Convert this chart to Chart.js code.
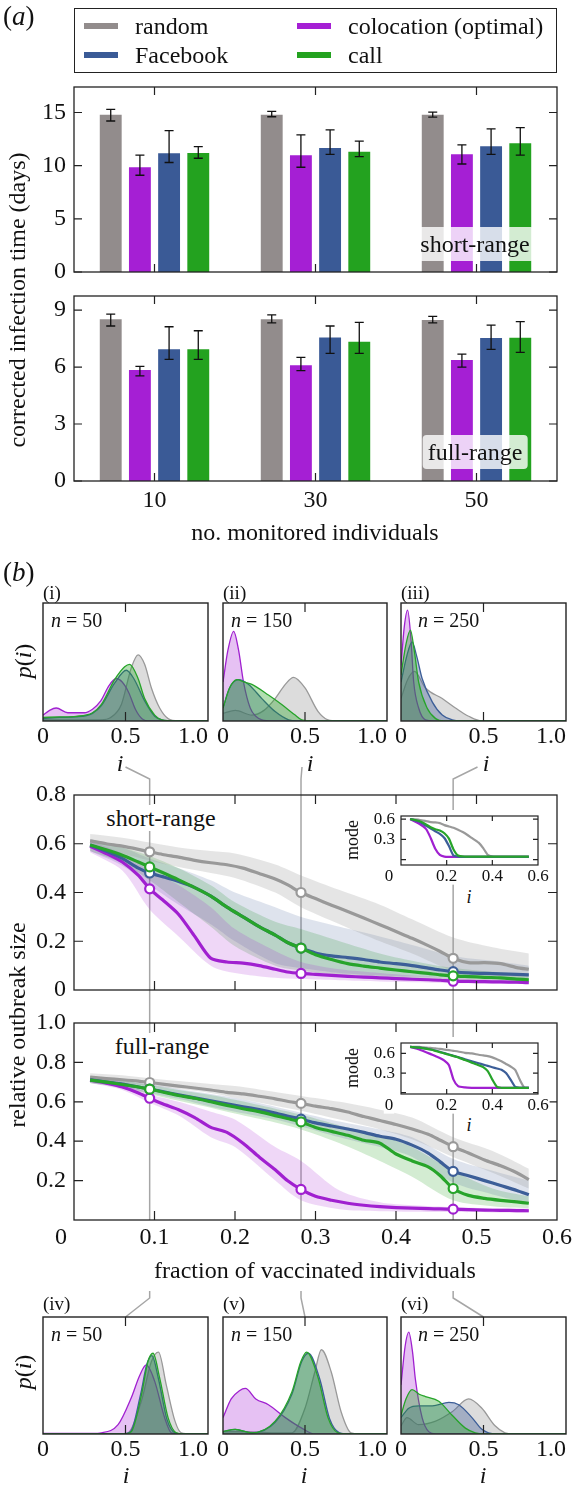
<!DOCTYPE html>
<html lang="en">
<head>
<meta charset="UTF-8">
<title>Monitoring and vaccination</title>
<script src="https://cdn.jsdelivr.net/npm/chart.js"></script>
<style>
    html, body { margin: 0; padding: 0; background: #fff; }
    body {
        width: 572px; height: 1488px; position: relative; overflow: hidden;
        font-family: "Liberation Serif", "Times New Roman", Tinos, "DejaVu Serif", "Noto Serif", serif; color: #111;
    }
    canvas { position: absolute; left: 0; top: 0; }
    .t { position: absolute; white-space: nowrap; line-height: 1; font-size: 24px;
         transform: translate(-50%, -50%); z-index: 10; }
    .l { transform: translate(0, -50%); }
    .rot { transform: translate(-50%, -50%) rotate(-90deg); }
    .tag { background: rgba(255, 255, 255, 0.8); border-radius: 4px; padding: 5px 5px; }
    .wbg { background: #fff; padding: 1px 3px; }
    #legend { position: absolute; left: 74px; top: 8px; width: 483px; height: 65px;
              border: 1.3px solid #222; box-sizing: border-box; z-index: 10; }
    .sw { position: absolute; width: 34px; height: 6px; }
</style>
</head>
<body>

<!-- panel (a) texts -->
<div class="t l" style="left:3px;top:16px;font-size:27px">(<i>a</i>)</div>
<div id="legend"></div>
<div class="t tag" style="left:475px;top:244px">short-range</div>
<div class="t tag" style="left:475px;top:452px">full-range</div>
<div class="t rot" style="left:17px;top:300px">corrected infection time (days)</div>
<div class="t" style="left:315px;top:532px">no. monitored individuals</div>

<!-- panel (b) texts -->
<div class="t l" style="left:3px;top:572px;font-size:27px">(<i>b</i>)</div>
<div class="t l" style="left:43px;top:592px;font-size:19px">(i)</div>
<div class="t l" style="left:223px;top:592px;font-size:19px">(ii)</div>
<div class="t l" style="left:401px;top:592px;font-size:19px">(iii)</div>
<div class="t l" style="left:51px;top:620px;font-size:20px"><i>n</i> = 50</div>
<div class="t l" style="left:231px;top:620px;font-size:20px"><i>n</i> = 150</div>
<div class="t l" style="left:418px;top:620px;font-size:20px"><i>n</i> = 250</div>
<div class="t rot" style="left:23px;top:661px"><i>p</i>(<i>i</i>)</div>
<div class="t" style="left:120px;top:763px"><i>i</i></div>
<div class="t" style="left:310px;top:763px"><i>i</i></div>
<div class="t" style="left:486px;top:763px"><i>i</i></div>

<div class="t wbg" style="left:161px;top:818px">short-range</div>
<div class="t wbg" style="left:162px;top:1046px">full-range</div>
<div class="t rot" style="left:352px;top:840px;font-size:18px">mode</div>
<div class="t rot" style="left:352px;top:1068px;font-size:18px">mode</div>
<div class="t wbg" style="left:469px;top:897px;font-size:18px"><i>i</i></div>
<div class="t wbg" style="left:469px;top:1125px;font-size:18px"><i>i</i></div>
<div class="t rot" style="left:17px;top:1025px">relative outbreak size</div>
<div class="t" style="left:315px;top:1270px">fraction of vaccinated individuals</div>

<div class="t l" style="left:43px;top:1303px;font-size:19px">(iv)</div>
<div class="t l" style="left:223px;top:1303px;font-size:19px">(v)</div>
<div class="t l" style="left:401px;top:1303px;font-size:19px">(vi)</div>
<div class="t l" style="left:51px;top:1334px;font-size:20px"><i>n</i> = 50</div>
<div class="t l" style="left:231px;top:1334px;font-size:20px"><i>n</i> = 150</div>
<div class="t l" style="left:418px;top:1334px;font-size:20px"><i>n</i> = 250</div>
<div class="t rot" style="left:23px;top:1372px"><i>p</i>(<i>i</i>)</div>
<div class="t" style="left:126px;top:1475px"><i>i</i></div>
<div class="t" style="left:304px;top:1475px"><i>i</i></div>
<div class="t" style="left:483px;top:1475px"><i>i</i></div>

<script>
    const W = 572, H = 1488;

    /***************************
            DATA
    ***************************/

    // series order: random, colocation (optimal), Facebook, call
    const seriesNames = ['random', 'colocation (optimal)', 'Facebook', 'call'];
    const barColors = ['#928c8c', '#a51fd4', '#3a5a96', '#23a21f'];
    const lineColors = ['#999999', '#a020d0', '#3c5e98', '#27a42a'];
    const bandColors = ['rgba(150,150,150,0.25)', 'rgba(165,31,212,0.18)', 'rgba(58,90,150,0.17)', 'rgba(35,162,31,0.2)'];
    const densFill = ['rgba(140,140,140,0.3)', 'rgba(165,31,212,0.28)', 'rgba(58,90,150,0.35)', 'rgba(35,162,31,0.35)'];

    // (a) bar charts
    const groups = ['10', '30', '50'];
    const barShortMean = [[14.8, 14.8, 14.8], [9.85, 10.97, 11.07], [11.16, 11.67, 11.82], [11.2, 11.3, 12.1]];
    const barShortLo   = [[14.2, 14.6, 14.56], [9.1, 9.85, 10.16], [10.3, 11.07, 11.07], [10.7, 10.85, 11.0]];
    const barShortHi   = [[15.3, 15.1, 15.03], [11.0, 12.9, 11.95], [13.3, 13.36, 13.46], [11.8, 12.3, 13.58]];
    const barFullMean  = [[8.51, 8.51, 8.47], [5.84, 6.09, 6.37], [6.93, 7.56, 7.53], [6.93, 7.33, 7.54]];
    const barFullLo    = [[8.16, 8.33, 8.33], [5.53, 5.81, 6.0], [6.40, 6.72, 6.93], [6.40, 6.72, 6.77]];
    const barFullHi    = [[8.79, 8.75, 8.67], [6.04, 6.51, 6.68], [8.12, 8.16, 8.21], [7.91, 8.35, 8.39]];

    // (b) outbreak size vs fraction of vaccinated individuals
    const vaccFrac = [0.094, 0.282, 0.471];
    const vaccX = [0.02, 0.04, 0.06, 0.08, 0.094, 0.11, 0.13, 0.15, 0.17, 0.19, 0.21, 0.23, 0.25, 0.265, 0.282,
                   0.30, 0.32, 0.34, 0.36, 0.38, 0.40, 0.42, 0.44, 0.455, 0.471, 0.49, 0.51, 0.53, 0.55, 0.565];
    const outShort = [
        [0.612, 0.60, 0.59, 0.577, 0.567, 0.556, 0.545, 0.532, 0.522, 0.514, 0.50, 0.478, 0.455, 0.432, 0.40,
         0.375, 0.348, 0.322, 0.295, 0.268, 0.24, 0.212, 0.182, 0.158, 0.13, 0.112, 0.112, 0.108, 0.092, 0.085],
        [0.59, 0.56, 0.525, 0.47, 0.415, 0.37, 0.31, 0.22, 0.13, 0.115, 0.11, 0.10, 0.085, 0.074, 0.068,
         0.064, 0.06, 0.056, 0.053, 0.05, 0.047, 0.044, 0.042, 0.04, 0.036, 0.035, 0.034, 0.033, 0.032, 0.03],
        [0.595, 0.57, 0.54, 0.50, 0.48, 0.465, 0.445, 0.42, 0.385, 0.34, 0.30, 0.26, 0.225, 0.195, 0.172,
         0.152, 0.14, 0.133, 0.125, 0.115, 0.108, 0.10, 0.09, 0.082, 0.075, 0.07, 0.068, 0.066, 0.064, 0.062],
        [0.595, 0.575, 0.553, 0.525, 0.505, 0.482, 0.452, 0.42, 0.385, 0.34, 0.30, 0.26, 0.225, 0.195, 0.172,
         0.145, 0.125, 0.108, 0.098, 0.09, 0.082, 0.075, 0.068, 0.062, 0.058, 0.055, 0.052, 0.05, 0.045, 0.042]
    ];
    const outFull = [
        [0.726, 0.718, 0.712, 0.705, 0.698, 0.69, 0.68, 0.67, 0.66, 0.648, 0.64, 0.628, 0.615, 0.603, 0.592,
         0.578, 0.565, 0.548, 0.525, 0.505, 0.485, 0.462, 0.435, 0.405, 0.372, 0.34, 0.305, 0.275, 0.24, 0.205],
        [0.71, 0.695, 0.675, 0.645, 0.618, 0.59, 0.56, 0.52, 0.47, 0.445, 0.39, 0.32, 0.255, 0.2, 0.155,
         0.12, 0.1, 0.085, 0.075, 0.068, 0.063, 0.06, 0.058, 0.056, 0.055, 0.053, 0.05, 0.049, 0.048, 0.047],
        [0.712, 0.70, 0.69, 0.675, 0.665, 0.652, 0.635, 0.62, 0.605, 0.59, 0.575, 0.56, 0.543, 0.528, 0.512,
         0.493, 0.477, 0.462, 0.445, 0.425, 0.41, 0.38, 0.34, 0.295, 0.247, 0.225, 0.2, 0.175, 0.15, 0.128],
        [0.71, 0.70, 0.688, 0.675, 0.664, 0.65, 0.632, 0.618, 0.60, 0.582, 0.565, 0.55, 0.53, 0.515, 0.498,
         0.47, 0.45, 0.43, 0.405, 0.39, 0.335, 0.30, 0.27, 0.225, 0.16, 0.125, 0.11, 0.10, 0.092, 0.085]
    ];

    // shaded bands
    const bandX = [0.02, 0.06, 0.094, 0.13, 0.17, 0.2, 0.25, 0.282, 0.33, 0.38, 0.42, 0.471, 0.52, 0.565];
    const bandShortHi = [
        [0.64, 0.625, 0.605, 0.585, 0.57, 0.56, 0.515, 0.47, 0.41, 0.35, 0.29, 0.215, 0.175, 0.15],
        [0.61, 0.56, 0.49, 0.43, 0.34, 0.25, 0.16, 0.115, 0.085, 0.07, 0.06, 0.05, 0.045, 0.04],
        [0.62, 0.585, 0.54, 0.5, 0.45, 0.4, 0.34, 0.3, 0.26, 0.22, 0.185, 0.14, 0.12, 0.1],
        [0.615, 0.585, 0.55, 0.5, 0.43, 0.36, 0.28, 0.25, 0.2, 0.15, 0.12, 0.09, 0.075, 0.065]
    ];
    const bandShortLo = [
        [0.585, 0.56, 0.53, 0.505, 0.48, 0.46, 0.4, 0.34, 0.27, 0.2, 0.15, 0.08, 0.06, 0.05],
        [0.565, 0.49, 0.33, 0.22, 0.1, 0.07, 0.05, 0.045, 0.04, 0.035, 0.032, 0.028, 0.026, 0.025],
        [0.57, 0.51, 0.43, 0.35, 0.27, 0.2, 0.11, 0.09, 0.07, 0.06, 0.055, 0.05, 0.047, 0.045],
        [0.57, 0.52, 0.45, 0.36, 0.26, 0.18, 0.1, 0.08, 0.06, 0.05, 0.045, 0.04, 0.035, 0.032]
    ];
    const bandFullHi = [
        [0.745, 0.735, 0.72, 0.705, 0.69, 0.68, 0.65, 0.63, 0.6, 0.56, 0.52, 0.42, 0.35, 0.26],
        [0.725, 0.7, 0.64, 0.6, 0.55, 0.51, 0.37, 0.3, 0.15, 0.09, 0.075, 0.065, 0.06, 0.058],
        [0.73, 0.71, 0.69, 0.665, 0.64, 0.62, 0.575, 0.545, 0.5, 0.46, 0.42, 0.31, 0.25, 0.2],
        [0.73, 0.71, 0.685, 0.66, 0.635, 0.61, 0.565, 0.535, 0.48, 0.43, 0.37, 0.25, 0.16, 0.12]
    ];
    const bandFullLo = [
        [0.705, 0.695, 0.68, 0.665, 0.645, 0.62, 0.58, 0.555, 0.51, 0.46, 0.41, 0.32, 0.24, 0.16],
        [0.695, 0.66, 0.595, 0.53, 0.42, 0.37, 0.2, 0.1, 0.055, 0.045, 0.042, 0.04, 0.038, 0.037],
        [0.695, 0.675, 0.645, 0.615, 0.575, 0.55, 0.51, 0.475, 0.42, 0.37, 0.32, 0.19, 0.13, 0.085],
        [0.695, 0.67, 0.64, 0.605, 0.57, 0.54, 0.495, 0.46, 0.39, 0.3, 0.22, 0.1, 0.07, 0.06]
    ];

    // insets: mode of the outbreak size
    const insetX = [0.04, 0.08, 0.11, 0.13, 0.15, 0.17, 0.19, 0.21, 0.23, 0.25, 0.28, 0.31,
                    0.34, 0.36, 0.38, 0.40, 0.42, 0.44, 0.46, 0.48, 0.50, 0.52, 0.54, 0.56];
    const modeShort = [
        [0.60, 0.59, 0.57, 0.555, 0.55, 0.54, 0.51, 0.49, 0.47, 0.44, 0.39, 0.32, 0.25, 0.17, 0.07, 0.045, 0.04, 0.04, 0.04, 0.04, 0.04, 0.04, 0.04, 0.04],
        [0.60, 0.53, 0.45, 0.32, 0.16, 0.07, 0.045, 0.04, 0.04, 0.04, 0.04, 0.04, 0.04, 0.04, 0.04, 0.04, 0.04, 0.04, 0.04, 0.04, 0.04, 0.04, 0.04, 0.04],
        [0.60, 0.56, 0.50, 0.46, 0.42, 0.38, 0.32, 0.20, 0.06, 0.045, 0.04, 0.04, 0.04, 0.04, 0.04, 0.04, 0.04, 0.04, 0.04, 0.04, 0.04, 0.04, 0.04, 0.04],
        [0.60, 0.57, 0.52, 0.48, 0.45, 0.43, 0.39, 0.31, 0.15, 0.06, 0.045, 0.045, 0.045, 0.045, 0.045, 0.045, 0.045, 0.045, 0.045, 0.045, 0.045, 0.045, 0.045, 0.045]
    ];
    const modeFull = [
        [0.70, 0.70, 0.69, 0.685, 0.68, 0.67, 0.66, 0.65, 0.64, 0.63, 0.61, 0.60, 0.58, 0.57, 0.56, 0.54, 0.51, 0.48, 0.44, 0.40, 0.35, 0.20, 0.08, 0.075],
        [0.70, 0.66, 0.62, 0.59, 0.56, 0.53, 0.49, 0.42, 0.20, 0.10, 0.08, 0.075, 0.075, 0.075, 0.075, 0.075, 0.075, 0.075, 0.075, 0.075, 0.075, 0.075, 0.075, 0.075],
        [0.70, 0.69, 0.675, 0.66, 0.645, 0.625, 0.605, 0.585, 0.565, 0.545, 0.51, 0.48, 0.45, 0.43, 0.41, 0.39, 0.37, 0.35, 0.30, 0.20, 0.09, 0.075, 0.075, 0.075],
        [0.70, 0.69, 0.675, 0.66, 0.64, 0.62, 0.60, 0.58, 0.56, 0.54, 0.50, 0.46, 0.42, 0.39, 0.33, 0.20, 0.09, 0.075, 0.075, 0.075, 0.075, 0.075, 0.075, 0.075]
    ];

    // densities p(i), as [i, p] pairs, series order random, colocation, Facebook, call
    const densI = [
        [[0, 0.01], [0.2, 0.01], [0.35, 0.01], [0.41, 0.03], [0.475, 0.14], [0.535, 0.45], [0.576, 0.56], [0.616, 0.48], [0.657, 0.28], [0.707, 0.11], [0.758, 0.02], [0.82, 0], [1, 0]],
        [[0, 0.05], [0.04, 0.09], [0.08, 0.11], [0.15, 0.07], [0.25, 0.07], [0.3, 0.1], [0.35, 0.17], [0.4, 0.3], [0.444, 0.36], [0.48, 0.33], [0.52, 0.24], [0.56, 0.1], [0.6, 0.02], [0.65, 0], [1, 0]],
        [[0, 0.02], [0.1, 0.03], [0.2, 0.035], [0.3, 0.065], [0.354, 0.13], [0.434, 0.32], [0.505, 0.43], [0.55, 0.36], [0.616, 0.17], [0.677, 0.04], [0.72, 0.01], [0.8, 0], [1, 0]],
        [[0, 0.03], [0.1, 0.035], [0.2, 0.04], [0.3, 0.07], [0.354, 0.14], [0.434, 0.35], [0.495, 0.46], [0.525, 0.48], [0.576, 0.36], [0.616, 0.19], [0.677, 0.05], [0.72, 0.01], [0.8, 0], [1, 0]]
    ];
    const densII = [
        [[0, 0.065], [0.075, 0.09], [0.176, 0.05], [0.25, 0.09], [0.318, 0.19], [0.38, 0.31], [0.43, 0.37], [0.5, 0.28], [0.58, 0.08], [0.64, 0.01], [0.7, 0], [1, 0]],
        [[0, 0.33], [0.03, 0.6], [0.065, 0.76], [0.095, 0.6], [0.125, 0.33], [0.166, 0.11], [0.2, 0.04], [0.237, 0.01], [0.3, 0], [1, 0]],
        [[0, 0.11], [0.04, 0.28], [0.095, 0.35], [0.156, 0.31], [0.237, 0.19], [0.318, 0.08], [0.4, 0.01], [0.45, 0], [1, 0]],
        [[0, 0.11], [0.04, 0.28], [0.085, 0.35], [0.13, 0.33], [0.176, 0.31], [0.277, 0.22], [0.358, 0.14], [0.44, 0.05], [0.48, 0.01], [0.55, 0], [1, 0]]
    ];
    const densIII = [
        [[0, 0.19], [0.04, 0.35], [0.081, 0.42], [0.148, 0.28], [0.25, 0.19], [0.33, 0.11], [0.41, 0.04], [0.49, 0], [1, 0]],
        [[0, 0.47], [0.02, 0.8], [0.04, 0.94], [0.06, 0.7], [0.077, 0.33], [0.107, 0.11], [0.148, 0.01], [0.2, 0], [1, 0]],
        [[0, 0.33], [0.035, 0.55], [0.067, 0.67], [0.095, 0.55], [0.128, 0.36], [0.19, 0.16], [0.25, 0.05], [0.31, 0.01], [0.36, 0], [1, 0]],
        [[0, 0.39], [0.03, 0.65], [0.057, 0.77], [0.08, 0.6], [0.107, 0.33], [0.158, 0.11], [0.21, 0.02], [0.26, 0], [1, 0]]
    ];
    const densIV = [
        [[0, 0], [0.45, 0], [0.515, 0.01], [0.596, 0.28], [0.657, 0.62], [0.70, 0.70], [0.747, 0.42], [0.8, 0.11], [0.838, 0.01], [0.9, 0], [1, 0]],
        [[0, 0.005], [0.3, 0.005], [0.354, 0.01], [0.455, 0.08], [0.535, 0.31], [0.586, 0.5], [0.626, 0.59], [0.677, 0.45], [0.737, 0.14], [0.778, 0.01], [0.82, 0], [1, 0]],
        [[0, 0], [0.47, 0], [0.53, 0.02], [0.59, 0.33], [0.63, 0.6], [0.66, 0.67], [0.70, 0.47], [0.75, 0.13], [0.80, 0.01], [0.85, 0], [1, 0]],
        [[0, 0], [0.48, 0], [0.535, 0.02], [0.596, 0.33], [0.636, 0.62], [0.667, 0.69], [0.707, 0.48], [0.758, 0.14], [0.808, 0.01], [0.85, 0], [1, 0]]
    ];
    const densV = [
        [[0, 0.02], [0.15, 0.02], [0.3, 0.01], [0.42, 0.01], [0.5, 0.22], [0.56, 0.53], [0.6, 0.72], [0.66, 0.53], [0.72, 0.19], [0.78, 0.01], [0.83, 0], [1, 0]],
        [[0, 0.14], [0.05, 0.3], [0.1, 0.37], [0.136, 0.39], [0.2, 0.3], [0.277, 0.25], [0.38, 0.14], [0.48, 0.05], [0.56, 0], [1, 0]],
        [[0, 0.02], [0.075, 0.04], [0.176, 0.01], [0.318, 0.1], [0.42, 0.34], [0.48, 0.62], [0.52, 0.69], [0.59, 0.47], [0.65, 0.13], [0.71, 0.01], [0.76, 0], [1, 0]],
        [[0, 0.02], [0.075, 0.04], [0.176, 0.01], [0.318, 0.11], [0.42, 0.36], [0.475, 0.62], [0.51, 0.70], [0.58, 0.48], [0.64, 0.14], [0.70, 0.01], [0.75, 0], [1, 0]]
    ];
    const densVI = [
        [[0, 0.07], [0.036, 0.14], [0.107, 0.08], [0.21, 0.11], [0.31, 0.19], [0.41, 0.3], [0.49, 0.22], [0.57, 0.07], [0.63, 0.01], [0.68, 0], [1, 0]],
        [[0, 0.42], [0.025, 0.75], [0.047, 0.87], [0.07, 0.7], [0.087, 0.47], [0.128, 0.14], [0.168, 0.02], [0.21, 0], [1, 0]],
        [[0, 0.14], [0.047, 0.22], [0.107, 0.24], [0.19, 0.24], [0.29, 0.27], [0.35, 0.25], [0.43, 0.14], [0.49, 0.04], [0.53, 0.01], [0.58, 0], [1, 0]],
        [[0, 0.16], [0.03, 0.3], [0.067, 0.38], [0.11, 0.34], [0.148, 0.32], [0.229, 0.28], [0.31, 0.16], [0.39, 0.05], [0.45, 0.01], [0.5, 0], [1, 0]]
    ];


    /***************************
            LAYOUT
    ***************************/
    const barShortBox = { x0: 74, y0: 87, x1: 557, y1: 272 };
    const barFullBox = { x0: 74, y0: 296, x1: 557, y1: 481 };
    const mainShortBox = { x0: 74, y0: 795, x1: 557, y1: 990 };
    const mainFullBox = { x0: 74, y0: 1023, x1: 557, y1: 1220 };
    const insetShortBox = { x0: 401, y0: 816, x1: 538, y1: 865 };
    const insetFullBox = { x0: 401, y0: 1043, x1: 538, y1: 1094 };
    const panelCols = [[43, 208], [223, 387], [401, 566]];
    const topRow = [603, 721];
    const botRow = [1317, 1434];
    const serif = '"Liberation Serif", "Times New Roman", Tinos, "DejaVu Serif", "Noto Serif", serif';

    // legend, two columns: random / Facebook on the left, colocation / call on the right
    const legendSlots = [[84, 26], [297, 26], [84, 55], [297, 55]];
    [[0, 0], [1, 1], [2, 2], [3, 3]].forEach(([slot, s]) => {
        const [x, y] = legendSlots[slot];
        const sw = document.createElement('div');
        sw.className = 'sw';
        sw.style.cssText = `left:${x}px;top:${y - 3}px;background:${barColors[s]};z-index:11`;
        document.body.appendChild(sw);
        const tx = document.createElement('div');
        tx.className = 't l';
        tx.style.cssText = `left:${x + 51}px;top:${y}px`;
        tx.textContent = seriesNames[s];
        document.body.appendChild(tx);
    });

    function makeCanvas(z) {
        const c = document.createElement('canvas');
        c.width = W; c.height = H;
        c.style.width = W + 'px'; c.style.height = H + 'px';
        c.style.zIndex = z;
        document.body.appendChild(c);
        return c;
    }

    function baseOptions(box) {
        return {
            responsive: false, animation: false, devicePixelRatio: 1, events: [],
            layout: { padding: { left: box.x0, top: box.y0, right: W - box.x1, bottom: H - box.y1 } }
        };
    }

    // frame, inward ticks on all sides, and tick labels
    const framePlugin = {
        id: 'frame',
        afterDraw(chart, args, o) {
            const { ctx, chartArea: a } = chart;
            const xs = chart.scales.x, ys = chart.scales.y;
            const L = o.tick || 8;
            ctx.save();
            ctx.strokeStyle = '#222';
            ctx.lineWidth = o.lw || 1.3;
            ctx.strokeRect(a.left, a.top, a.right - a.left, a.bottom - a.top);
            ctx.lineWidth = 1.2;
            ctx.beginPath();
            (o.xticks || []).forEach(v => {
                const px = xs.getPixelForValue(v);
                ctx.moveTo(px, a.top); ctx.lineTo(px, a.top + L);
                ctx.moveTo(px, a.bottom); ctx.lineTo(px, a.bottom - L);
            });
            (o.yticks || []).forEach(v => {
                const py = ys.getPixelForValue(v);
                ctx.moveTo(a.left, py); ctx.lineTo(a.left + L, py);
                ctx.moveTo(a.right, py); ctx.lineTo(a.right - L, py);
            });
            ctx.stroke();

            const size = o.size || 24;
            ctx.font = size + 'px ' + serif;
            ctx.textBaseline = 'middle';
            const label = (t, x, y, align) => {
                ctx.textAlign = align;
                if (o.labelBg) {
                    const w = ctx.measureText(t).width;
                    const x0 = align === 'center' ? x - w / 2 : (align === 'right' ? x - w : x);
                    ctx.fillStyle = '#fff';
                    ctx.fillRect(x0 - 1, y - size * 0.45, w + 2, size * 0.9);
                }
                ctx.fillStyle = '#111';
                ctx.fillText(t, x, y);
            };
            (o.xtext || []).forEach((t, i) => {
                const v = o.xlab ? o.xlab[i] : o.xticks[i];
                const px = xs.getPixelForValue(v) + (o.xdx ? o.xdx[i] : 0);
                label(t, px, a.bottom + (o.xoff || 18), o.xalign ? o.xalign[i] : 'center');
            });
            (o.ytext || []).forEach((t, i) => {
                const v = o.ylab ? o.ylab[i] : o.yticks[i];
                label(t, a.left - (o.yoff || 8), ys.getPixelForValue(v), 'right');
            });
            ctx.restore();
        }
    };

    // error bars drawn from each bar's own position
    const errPlugin = {
        id: 'errbars',
        afterDatasetsDraw(chart) {
            const ctx = chart.ctx, y = chart.scales.y;
            ctx.save();
            ctx.strokeStyle = '#111';
            ctx.lineWidth = 1.3;
            chart.data.datasets.forEach((ds, i) => {
                chart.getDatasetMeta(i).data.forEach((bar, j) => {
                    const lo = y.getPixelForValue(ds.errLo[j]);
                    const hi = y.getPixelForValue(ds.errHi[j]);
                    ctx.beginPath();
                    ctx.moveTo(bar.x, lo); ctx.lineTo(bar.x, hi);
                    ctx.moveTo(bar.x - 4.5, lo); ctx.lineTo(bar.x + 4.5, lo);
                    ctx.moveTo(bar.x - 4.5, hi); ctx.lineTo(bar.x + 4.5, hi);
                    ctx.stroke();
                });
            });
            ctx.restore();
        }
    };

    // white patch behind the insets
    const backdropPlugin = {
        id: 'backdrop',
        beforeDraw(chart, args, o) {
            const a = chart.chartArea, ctx = chart.ctx;
            ctx.save();
            ctx.fillStyle = '#fff';
            ctx.fillRect(a.left - o.pad, a.top - o.pad, a.right - a.left + 2 * o.pad, a.bottom - a.top + 2 * o.pad);
            ctx.restore();
        }
    };


    /***************************
            CHARTS
    ***************************/

    function barChart(box, yMax, yTicks, mean, lo, hi, withLabels) {
        const datasets = seriesNames.map((name, s) => ({
            label: name, data: mean[s], errLo: lo[s], errHi: hi[s],
            backgroundColor: barColors[s], borderWidth: 0,
            categoryPercentage: 0.725, barPercentage: 0.75
        }));
        const frame = { xticks: [0, 1, 2], xoff: 20, yticks: yTicks, ytext: yTicks.map(String), tick: 8 };
        if (withLabels) frame.xtext = groups;
        return new Chart(makeCanvas(1), {
            type: 'bar',
            data: { labels: groups, datasets: datasets },
            options: Object.assign(baseOptions(box), {
                scales: {
                    x: { display: false },
                    y: { display: false, min: 0, max: yMax }
                },
                plugins: { legend: { display: false }, tooltip: { enabled: false }, frame: frame }
            }),
            plugins: [framePlugin, errPlugin]
        });
    }

    function outbreakChart(box, yMax, lines, lo, hi, frame) {
        const marks = vaccFrac.map(f => vaccX.indexOf(f));
        const datasets = [];
        lines.forEach((ys, s) => {
            datasets.push({ data: bandX.map((x, i) => ({ x: x, y: hi[s][i] })), borderWidth: 0, pointRadius: 0,
                            fill: false, tension: 0.3, order: 10 + s });
            datasets.push({ data: bandX.map((x, i) => ({ x: x, y: lo[s][i] })), borderWidth: 0, pointRadius: 0,
                            fill: '-1', backgroundColor: bandColors[s], tension: 0.3, order: 10 + s });
        });
        lines.forEach((ys, s) => {
            datasets.push({
                label: seriesNames[s],
                data: vaccX.map((x, i) => ({ x: x, y: ys[i] })),
                borderColor: lineColors[s], borderWidth: 3.2, tension: 0.25, fill: false,
                pointRadius: c => marks.includes(c.dataIndex) ? 4.5 : 0,
                pointBackgroundColor: '#fff', pointBorderColor: lineColors[s], pointBorderWidth: 2.2,
                order: 4 - s
            });
        });
        return new Chart(makeCanvas(1), {
            type: 'line',
            data: { datasets: datasets },
            options: Object.assign(baseOptions(box), {
                scales: {
                    x: { type: 'linear', display: false, min: 0, max: 0.6 },
                    y: { display: false, min: 0, max: yMax }
                },
                plugins: { legend: { display: false }, tooltip: { enabled: false }, frame: frame }
            }),
            plugins: [framePlugin]
        });
    }

    function modeChart(box, yMin, yMax, lines) {
        return new Chart(makeCanvas(2), {
            type: 'line',
            data: {
                datasets: lines.map((ys, s) => ({
                    data: insetX.map((x, i) => ({ x: x, y: ys[i] })),
                    borderColor: lineColors[s], borderWidth: 2.2, pointRadius: 0, tension: 0.2, fill: false,
                    order: 4 - s
                }))
            },
            options: Object.assign(baseOptions(box), {
                scales: {
                    x: { type: 'linear', display: false, min: 0, max: 0.6 },
                    y: { display: false, min: yMin, max: yMax }
                },
                plugins: {
                    legend: { display: false }, tooltip: { enabled: false },
                    backdrop: { pad: 6 },
                    frame: {
                        size: 17, tick: 5, lw: 1.2, labelBg: true,
                        xticks: [0.2, 0.4], xtext: ['0', '0.2', '0.4', '0.6'], xlab: [0, 0.2, 0.4, 0.6],
                        xdx: [-12, 0, 0, 0], xoff: 12,
                        yticks: [0, 0.3, 0.6], ytext: ['0.3', '0.6'], ylab: [0.3, 0.6], yoff: 6
                    }
                }
            }),
            plugins: [backdropPlugin, framePlugin]
        });
    }

    function densityChart(col, row, sets) {
        const box = { x0: panelCols[col][0], x1: panelCols[col][1], y0: row[0], y1: row[1] };
        return new Chart(makeCanvas(1), {
            type: 'line',
            data: {
                datasets: sets.map((pts, s) => ({
                    data: pts.map(p => ({ x: p[0], y: p[1] })),
                    borderColor: lineColors[s], borderWidth: 1.3, pointRadius: 0,
                    backgroundColor: densFill[s], fill: 'origin',
                    cubicInterpolationMode: 'monotone', order: 4 - s
                }))
            },
            options: Object.assign(baseOptions(box), {
                scales: {
                    x: { type: 'linear', display: false, min: 0, max: 1 },
                    y: { display: false, min: 0, max: 1 }
                },
                plugins: {
                    legend: { display: false }, tooltip: { enabled: false },
                    frame: {
                        tick: 9, lw: 1.4, xticks: [0.5], xtext: ['0', '0.5', '1.0'], xlab: [0, 0.5, 1],
                        xalign: ['center', 'center', 'right'], xoff: 16
                    }
                }
            }),
            plugins: [framePlugin]
        });
    }

    // connector lines live below everything else
    const overlay = makeCanvas(0);

    barChart(barShortBox, 17.4, [0, 5, 10, 15], barShortMean, barShortLo, barShortHi, false);
    barChart(barFullBox, 9.74, [0, 3, 6, 9], barFullMean, barFullLo, barFullHi, true);

    const xMain = [0.1, 0.2, 0.3, 0.4, 0.5];
    outbreakChart(mainShortBox, 0.8, outShort, bandShortLo, bandShortHi, {
        xticks: xMain, yticks: [0.2, 0.4, 0.6], ytext: ['0', '0.2', '0.4', '0.6', '0.8'], ylab: [0, 0.2, 0.4, 0.6, 0.8], tick: 9
    });
    const mainFull = outbreakChart(mainFullBox, 1.0, outFull, bandFullLo, bandFullHi, {
        xticks: xMain, yticks: [0.2, 0.4, 0.6, 0.8], ytext: ['0.2', '0.4', '0.6', '0.8', '1.0'], ylab: [0.2, 0.4, 0.6, 0.8, 1.0],
        xtext: ['0', '0.1', '0.2', '0.3', '0.4', '0.5', '0.6'], xlab: [0, 0.1, 0.2, 0.3, 0.4, 0.5, 0.6],
        xdx: [-13, 0, 0, 0, 0, 0, 0], xoff: 18, tick: 9
    });
    modeChart(insetShortBox, -0.08, 0.645, modeShort);
    modeChart(insetFullBox, -0.02, 0.76, modeFull);

    const topPanels = [densI, densII, densIII].map((d, k) => densityChart(k, topRow, d));
    const botPanels = [densIV, densV, densVI].map((d, k) => densityChart(k, botRow, d));

    // grey guide lines linking the marked fractions to the density panels
    (function drawConnectors() {
        const ctx = overlay.getContext('2d');
        const startDx = [0, -3, -6];
        ctx.strokeStyle = '#a6a6a6';
        ctx.lineWidth = 1.5;
        vaccFrac.forEach((f, k) => {
            const vx = mainFull.scales.x.getPixelForValue(f);
            const tc = topPanels[k].scales.x.getPixelForValue(0.5) + startDx[k];
            const bc = botPanels[k].scales.x.getPixelForValue(0.5);
            ctx.beginPath();
            ctx.moveTo(tc, 767); ctx.lineTo(vx, 779); ctx.lineTo(vx, mainFull.chartArea.bottom);
            ctx.stroke();
            ctx.beginPath();
            ctx.moveTo(vx, 1291); ctx.lineTo(vx, 1298); ctx.lineTo(bc, botPanels[k].chartArea.top);
            ctx.stroke();
        });
    })();
</script>
</body>
</html>
